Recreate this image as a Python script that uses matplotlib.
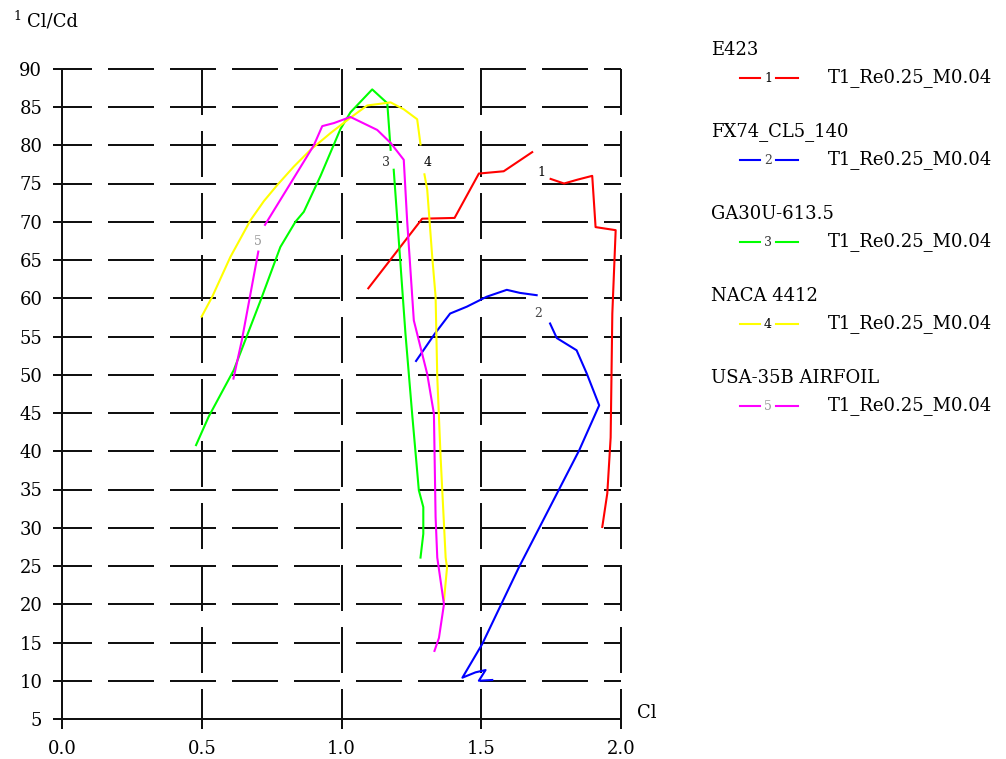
import numpy as np
import matplotlib
matplotlib.use("Agg")
import matplotlib.pyplot as plt
from matplotlib.lines import Line2D

plt.rcParams["font.family"] = ["DejaVu Serif"]
plt.rcParams["lines.scale_dashes"] = False

nan = np.nan

# data (Cl, Cl/Cd); nan = gap left for the curve number
e423_cl = [1.096, 1.289, 1.405, 1.492, 1.581, 1.683, nan, 1.749, 1.797, 1.845,
           1.898, 1.910, 1.982, 1.970, 1.964, 1.952, 1.934]
e423_ld = [61.3, 70.4, 70.5, 76.3, 76.6, 79.1, nan, 75.6, 75.0, 75.5,
           76.0, 69.3, 68.9, 58.0, 41.8, 34.5, 30.1]

fx74_cl = [1.267, 1.335, 1.389, 1.449, 1.520, 1.592, 1.639, 1.699, nan, 1.747,
           1.771, 1.842, 1.878, 1.923, 1.851, 1.635, 1.504, 1.433, 1.480, 1.516,
           1.492, 1.540]
fx74_ld = [51.8, 55.4, 58.0, 58.9, 60.2, 61.1, 60.7, 60.4, nan, 56.7,
           54.8, 53.2, 50.2, 46.0, 40.1, 24.8, 14.8, 10.4, 11.1, 11.4,
           10.0, 10.1]

ga30_cl = [0.479, 0.524, 0.614, 0.710, 0.781, 0.835, 0.865, 0.925, 0.996, 1.032,
           1.110, 1.164, 1.176, nan, 1.187, 1.200, 1.211, 1.229, 1.253, 1.277,
           1.293, 1.293, 1.283]
ga30_ld = [40.8, 44.5, 50.6, 59.7, 66.7, 70.0, 71.3, 76.0, 82.1, 84.3,
           87.3, 85.5, 79.4, nan, 76.8, 70.2, 64.6, 55.4, 44.9, 34.9,
           32.7, 29.2, 26.1]

naca_cl = [0.499, 0.537, 0.602, 0.674, 0.722, 0.770, 0.829, 0.889, 0.961, 1.032,
           1.092, 1.176, 1.223, 1.271, 1.283, nan, 1.297, 1.307, 1.325, 1.337,
           1.343, 1.349, 1.355, 1.373, 1.378, 1.367]
naca_ld = [57.6, 60.2, 65.4, 70.2, 72.7, 74.8, 77.2, 79.4, 81.6, 83.6,
           85.2, 85.6, 84.7, 83.4, 80.1, nan, 76.2, 74.2, 65.4, 60.2,
           49.7, 44.5, 39.2, 26.1, 24.8, 20.5]

usa_cl = [0.613, 0.643, 0.672, 0.702, nan, 0.726, 0.817, 0.901, 0.931, 0.973,
          1.032, 1.128, 1.176, 1.223, 1.235, 1.259, 1.307, 1.331, 1.337, 1.343,
          1.367, 1.349, 1.333]
usa_ld = [49.5, 54.5, 60.2, 66.1, nan, 69.6, 75.0, 80.0, 82.5, 82.9,
          83.7, 82.0, 80.3, 78.1, 70.2, 57.1, 50.1, 44.9, 31.4, 26.1,
          20.0, 15.6, 13.9]

names = ["E423", "FX74_CL5_140", "GA30U-613.5", "NACA 4412", "USA-35B AIRFOIL"]
run_label = "T1_Re0.25_M0.04"
colors = ["#ff0000", "#0000ff", "#00ff00", "#ffff00", "#ff00ff"]
num_colors = ["#000000", "#444444", "#333333", "#000000", "#999999"]
# where the curve numbers sit
num_cl = [1.717, 1.704, 1.158, 1.308, 0.702]
num_ld = [76.5, 58.0, 77.7, 77.7, 67.4]

series = [(e423_cl, e423_ld), (fx74_cl, fx74_ld), (ga30_cl, ga30_ld),
          (naca_cl, naca_ld), (usa_cl, usa_ld)]

x_ticks = [0.0, 0.5, 1.0, 1.5, 2.0]
y_ticks = list(range(5, 95, 5))

W, H = 1006, 759
fig = plt.figure(figsize=(W / 100, H / 100), dpi=100)
ax = fig.add_axes([62.3 / W, 1 - 719 / H, (620.7 - 62.3) / W, (719 - 68.75) / H])

px = 0.72  # points per pixel
dash = (46 * px, 16 * px)
for y in y_ticks[1:]:
    ax.axhline(y, color="#111111", lw=2 * px, linestyle=(16 * px, dash),
               clip_on=False, zorder=1)
ax.vlines(x_ticks[1:], 90, 5, color="#111111", lw=2 * px,
          linestyle=(0, dash), clip_on=False, zorder=1)

for (cl, ld), c in zip(series, colors):
    ax.plot(cl, ld, color=c, lw=1.5, zorder=3, clip_on=False)

for i in range(5):
    ax.text(num_cl[i], num_ld[i], str(i + 1), fontsize=9, color=num_colors[i],
            ha="center", va="center", zorder=4)

ax.set_xlim(0, 2.0)
ax.set_ylim(5, 90)
ax.set_xticks(x_ticks)
ax.set_xticklabels(["%.1f" % v for v in x_ticks])
ax.set_yticks(y_ticks)
for s in ["top", "right"]:
    ax.spines[s].set_visible(False)
for s in ["left", "bottom"]:
    ax.spines[s].set_linewidth(2 * px)
    ax.spines[s].set_color("#111111")
ax.tick_params(axis="y", direction="out", length=9 * px, width=2 * px,
               pad=11 * px, labelsize=13, color="#111111")
ax.tick_params(axis="x", direction="out", length=10 * px, width=2 * px,
               pad=11 * px, labelsize=13, color="#111111")

fig.text(13 / W, 1 - 17 / H, "1", fontsize=9, ha="left", va="center")
fig.text(27 / W, 1 - 22 / H, "Cl/Cd", fontsize=13, ha="left", va="center")
fig.text(637 / W, 1 - 713 / H, "Cl", fontsize=13, ha="left", va="center")

# legend on the right
for i, name in enumerate(names):
    ty = 50 + 82 * i
    ly = ty + 28
    fig.text(711 / W, 1 - ty / H, name, fontsize=13, ha="left", va="center")
    fig.add_artist(Line2D([740 / W, 760 / W], [1 - ly / H] * 2,
                          transform=fig.transFigure, color=colors[i], lw=1.5))
    fig.add_artist(Line2D([776 / W, 798 / W], [1 - ly / H] * 2,
                          transform=fig.transFigure, color=colors[i], lw=1.5))
    fig.text(768 / W, 1 - ly / H, str(i + 1), fontsize=9, color=num_colors[i],
             ha="center", va="center")
    fig.text(828 / W, 1 - ly / H, run_label, fontsize=13, ha="left", va="center")

fig.savefig("out.png", dpi=100, facecolor="white")
